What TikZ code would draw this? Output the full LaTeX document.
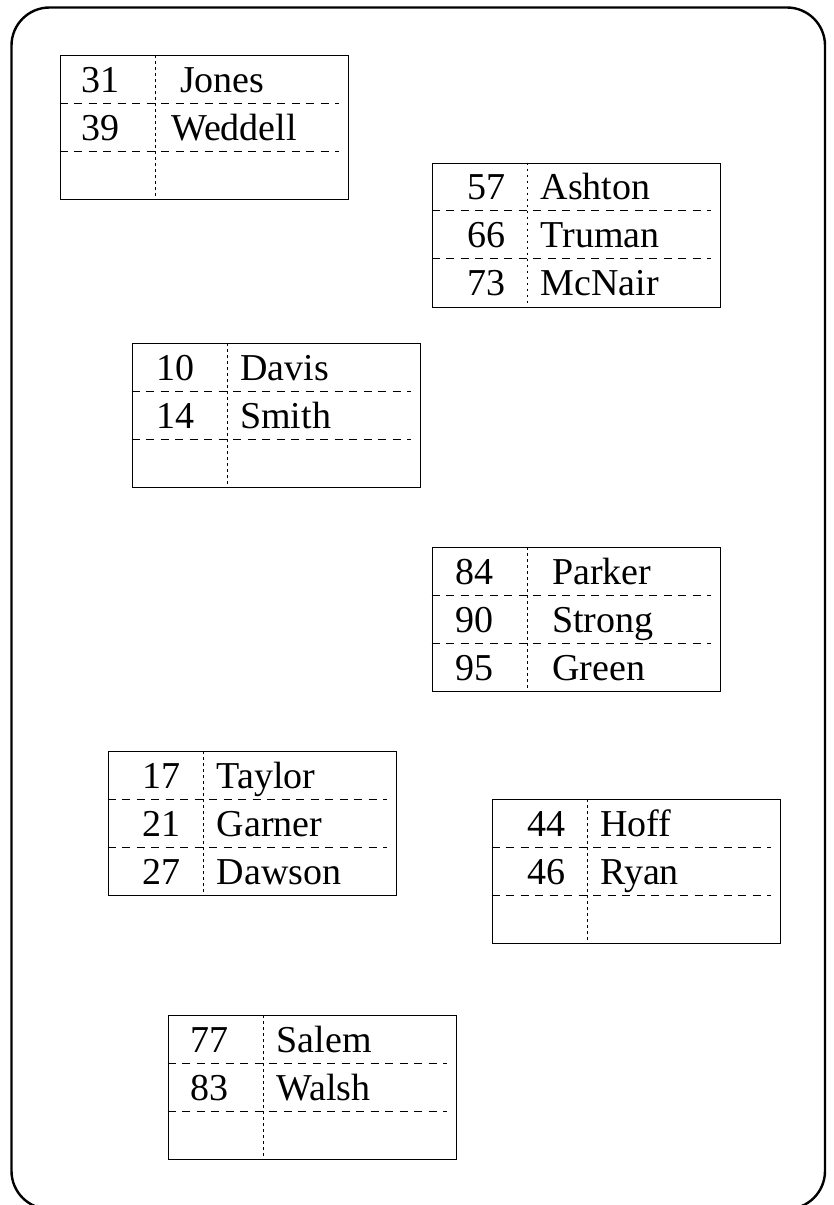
\documentclass[tikz,border=0pt]{standalone}
\usepackage{fontspec}
\setmainfont{Liberation Serif}
\usetikzlibrary{positioning}

% one bucket: id, left, top, key offset, {key/name offset/name,...}
\newcommand{\bucket}[5]{%
    \node (#1) [frame, anchor=north west] at (#2,#3) {};
    \draw [rowline] (#1.north west) ++(0,48) -- ++(279,0);
    \draw [rowline] (#1.north west) ++(0,96) -- ++(279,0);
    \draw [colline] (#1.north west) ++(95.5,0) -- ++(0,144);
    \foreach \k/\nx/\n [count=\r] in {#5} {
        \node (#1-k\r) [txt, anchor=base] at (#2+#4, #3+37+48*\r-48) {\k};
        \node (#1-n\r) [txt, anchor=base west] at (#2+\nx, #3+37+48*\r-48) {\n};
    }%
}

\begin{document}
\begin{tikzpicture}[x=1pt, y=-1pt]
    % Styles
    \tikzstyle{border} = [draw, line width=2.4pt, rounded corners=38pt]
    \tikzstyle{frame} = [draw, line width=1pt, rectangle, minimum width=288pt, minimum height=144pt, inner sep=0pt]
    \tikzstyle{rowline} = [line width=1pt, dash pattern=on 8pt off 6.5pt]
    \tikzstyle{colline} = [line width=1pt, dash pattern=on 2.5pt off 3.5pt]
    \tikzstyle{txt} = [inner sep=0pt, font=\fontsize{38}{45}\selectfont]

    \useasboundingbox (0,0) rectangle (834,1205);
    \clip (0,0) rectangle (834,1205);

    % Outer page
    \draw [border] (11.5,7.5) rectangle (825,1209);

    % Buckets
    \bucket{b1}{59.5}{55}{40.5}{31/120.5/Jones, 39/111.5/Weddell}
    \bucket{b2}{431.5}{162.5}{54.5}{57/109/Ashton, 66/109/Truman, 73/109/McNair}
    \bucket{b3}{131.5}{343}{43.5}{10/108.5/Davis, 14/108.5/Smith}
    \bucket{b4}{431.5}{547}{43}{84/120.5/Parker, 90/120.5/Strong, 95/120.5/Green}
    \bucket{b5}{107.5}{751}{54}{17/109/Taylor, 21/109/Garner, 27/109/Dawson}
    \bucket{b6}{491.5}{799}{54.5}{44/108.5/Hoff, 46/108.5/Ryan}
    \bucket{b7}{167.5}{1015}{42}{77/109/Salem, 83/109/Walsh}

\end{tikzpicture}
\end{document}
